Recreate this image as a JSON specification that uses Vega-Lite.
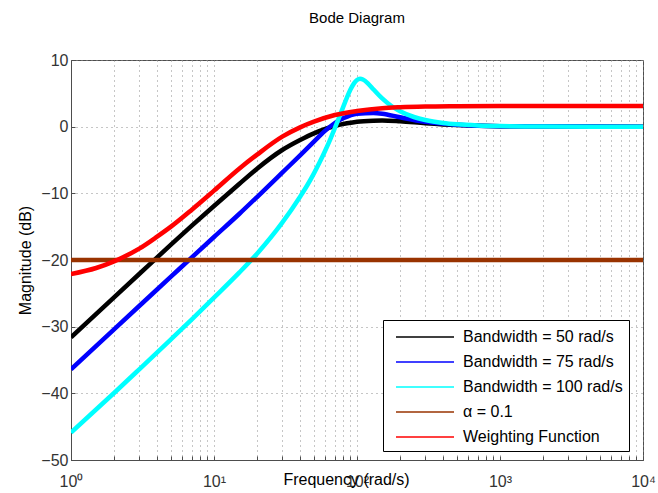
{
  "$schema": "https://vega.github.io/schema/vega-lite/v6.json",
  "autosize": {"type": "none"},
  "width": 572,
  "height": 400,
  "padding": {"left": 71, "top": 60, "right": 15, "bottom": 33},
  "background": "white",
  "title": {"text": "Bode Diagram", "fontSize": 15, "font": "Liberation Sans", "fontWeight": "normal", "color": "#000000", "offset": 26},
  "config": {
    "font": "Liberation Sans",
    "view": {"stroke": "#4d4d4d", "strokeWidth": 1},
    "axis": {"domainColor": "#4d4d4d", "tickColor": "#4d4d4d", "labelColor": "#333333", "titleColor": "#000000", "labelFont": "Liberation Sans", "titleFont": "Liberation Sans", "titleFontWeight": "normal", "gridColor": "#8c8c8c", "gridDash": [1, 4], "gridOpacity": 1, "gridWidth": 1}
  },
  "data": {"values": [
    {"w": 1, "db": -31.6, "s": "Bandwidth = 50 rad/s"},
    {"w": 2, "db": -25.6, "s": "Bandwidth = 50 rad/s"},
    {"w": 3, "db": -22.1, "s": "Bandwidth = 50 rad/s"},
    {"w": 5, "db": -17.7, "s": "Bandwidth = 50 rad/s"},
    {"w": 7, "db": -14.85, "s": "Bandwidth = 50 rad/s"},
    {"w": 10, "db": -11.9, "s": "Bandwidth = 50 rad/s"},
    {"w": 15, "db": -8.6, "s": "Bandwidth = 50 rad/s"},
    {"w": 20, "db": -6.3, "s": "Bandwidth = 50 rad/s"},
    {"w": 30, "db": -3.5, "s": "Bandwidth = 50 rad/s"},
    {"w": 40, "db": -2.0, "s": "Bandwidth = 50 rad/s"},
    {"w": 50, "db": -1.0, "s": "Bandwidth = 50 rad/s"},
    {"w": 60, "db": -0.35, "s": "Bandwidth = 50 rad/s"},
    {"w": 70, "db": 0.1, "s": "Bandwidth = 50 rad/s"},
    {"w": 85, "db": 0.5, "s": "Bandwidth = 50 rad/s"},
    {"w": 100, "db": 0.75, "s": "Bandwidth = 50 rad/s"},
    {"w": 130, "db": 0.9, "s": "Bandwidth = 50 rad/s"},
    {"w": 150, "db": 0.92, "s": "Bandwidth = 50 rad/s"},
    {"w": 200, "db": 0.8, "s": "Bandwidth = 50 rad/s"},
    {"w": 300, "db": 0.52, "s": "Bandwidth = 50 rad/s"},
    {"w": 500, "db": 0.24, "s": "Bandwidth = 50 rad/s"},
    {"w": 1000, "db": 0.07, "s": "Bandwidth = 50 rad/s"},
    {"w": 10000, "db": 0.0, "s": "Bandwidth = 50 rad/s"},
    {"w": 1, "db": -36.4, "s": "Bandwidth = 75 rad/s"},
    {"w": 2, "db": -30.4, "s": "Bandwidth = 75 rad/s"},
    {"w": 3, "db": -26.9, "s": "Bandwidth = 75 rad/s"},
    {"w": 5, "db": -22.5, "s": "Bandwidth = 75 rad/s"},
    {"w": 7, "db": -19.6, "s": "Bandwidth = 75 rad/s"},
    {"w": 10, "db": -16.55, "s": "Bandwidth = 75 rad/s"},
    {"w": 15, "db": -13.1, "s": "Bandwidth = 75 rad/s"},
    {"w": 20, "db": -10.55, "s": "Bandwidth = 75 rad/s"},
    {"w": 30, "db": -6.9, "s": "Bandwidth = 75 rad/s"},
    {"w": 40, "db": -4.3, "s": "Bandwidth = 75 rad/s"},
    {"w": 50, "db": -2.25, "s": "Bandwidth = 75 rad/s"},
    {"w": 60, "db": -0.6, "s": "Bandwidth = 75 rad/s"},
    {"w": 70, "db": 0.55, "s": "Bandwidth = 75 rad/s"},
    {"w": 80, "db": 1.25, "s": "Bandwidth = 75 rad/s"},
    {"w": 100, "db": 1.95, "s": "Bandwidth = 75 rad/s"},
    {"w": 130, "db": 2.05, "s": "Bandwidth = 75 rad/s"},
    {"w": 150, "db": 1.95, "s": "Bandwidth = 75 rad/s"},
    {"w": 200, "db": 1.4, "s": "Bandwidth = 75 rad/s"},
    {"w": 300, "db": 0.72, "s": "Bandwidth = 75 rad/s"},
    {"w": 500, "db": 0.28, "s": "Bandwidth = 75 rad/s"},
    {"w": 1000, "db": 0.07, "s": "Bandwidth = 75 rad/s"},
    {"w": 10000, "db": 0.0, "s": "Bandwidth = 75 rad/s"},
    {"w": 1, "db": -45.9, "s": "Bandwidth = 100 rad/s"},
    {"w": 2, "db": -39.95, "s": "Bandwidth = 100 rad/s"},
    {"w": 3, "db": -36.4, "s": "Bandwidth = 100 rad/s"},
    {"w": 5, "db": -31.9, "s": "Bandwidth = 100 rad/s"},
    {"w": 7, "db": -28.9, "s": "Bandwidth = 100 rad/s"},
    {"w": 10, "db": -25.65, "s": "Bandwidth = 100 rad/s"},
    {"w": 15, "db": -21.9, "s": "Bandwidth = 100 rad/s"},
    {"w": 20, "db": -19.05, "s": "Bandwidth = 100 rad/s"},
    {"w": 30, "db": -14.4, "s": "Bandwidth = 100 rad/s"},
    {"w": 40, "db": -10.5, "s": "Bandwidth = 100 rad/s"},
    {"w": 45, "db": -8.75, "s": "Bandwidth = 100 rad/s"},
    {"w": 50, "db": -7.0, "s": "Bandwidth = 100 rad/s"},
    {"w": 55, "db": -5.27, "s": "Bandwidth = 100 rad/s"},
    {"w": 60, "db": -3.57, "s": "Bandwidth = 100 rad/s"},
    {"w": 65, "db": -1.89, "s": "Bandwidth = 100 rad/s"},
    {"w": 70, "db": -0.23, "s": "Bandwidth = 100 rad/s"},
    {"w": 75, "db": 1.39, "s": "Bandwidth = 100 rad/s"},
    {"w": 80, "db": 2.94, "s": "Bandwidth = 100 rad/s"},
    {"w": 85, "db": 4.36, "s": "Bandwidth = 100 rad/s"},
    {"w": 90, "db": 5.56, "s": "Bandwidth = 100 rad/s"},
    {"w": 95, "db": 6.46, "s": "Bandwidth = 100 rad/s"},
    {"w": 100, "db": 6.99, "s": "Bandwidth = 100 rad/s"},
    {"w": 105, "db": 7.17, "s": "Bandwidth = 100 rad/s"},
    {"w": 110, "db": 7.07, "s": "Bandwidth = 100 rad/s"},
    {"w": 120, "db": 6.43, "s": "Bandwidth = 100 rad/s"},
    {"w": 130, "db": 5.62, "s": "Bandwidth = 100 rad/s"},
    {"w": 150, "db": 4.23, "s": "Bandwidth = 100 rad/s"},
    {"w": 175, "db": 3.06, "s": "Bandwidth = 100 rad/s"},
    {"w": 200, "db": 2.31, "s": "Bandwidth = 100 rad/s"},
    {"w": 250, "db": 1.45, "s": "Bandwidth = 100 rad/s"},
    {"w": 300, "db": 0.99, "s": "Bandwidth = 100 rad/s"},
    {"w": 400, "db": 0.55, "s": "Bandwidth = 100 rad/s"},
    {"w": 500, "db": 0.35, "s": "Bandwidth = 100 rad/s"},
    {"w": 700, "db": 0.18, "s": "Bandwidth = 100 rad/s"},
    {"w": 1000, "db": 0.09, "s": "Bandwidth = 100 rad/s"},
    {"w": 2000, "db": 0.02, "s": "Bandwidth = 100 rad/s"},
    {"w": 10000, "db": 0.0, "s": "Bandwidth = 100 rad/s"},
    {"w": 1, "db": -20, "s": "α = 0.1"},
    {"w": 10000, "db": -20, "s": "α = 0.1"},
    {"w": 1, "db": -22.1, "s": "Weighting Function"},
    {"w": 1.5, "db": -21.2, "s": "Weighting Function"},
    {"w": 2, "db": -20.2, "s": "Weighting Function"},
    {"w": 3, "db": -18.3, "s": "Weighting Function"},
    {"w": 4, "db": -16.5, "s": "Weighting Function"},
    {"w": 5, "db": -15.0, "s": "Weighting Function"},
    {"w": 7, "db": -12.45, "s": "Weighting Function"},
    {"w": 10, "db": -9.6, "s": "Weighting Function"},
    {"w": 15, "db": -6.3, "s": "Weighting Function"},
    {"w": 20, "db": -4.2, "s": "Weighting Function"},
    {"w": 30, "db": -1.5, "s": "Weighting Function"},
    {"w": 40, "db": -0.1, "s": "Weighting Function"},
    {"w": 50, "db": 0.75, "s": "Weighting Function"},
    {"w": 70, "db": 1.75, "s": "Weighting Function"},
    {"w": 100, "db": 2.35, "s": "Weighting Function"},
    {"w": 150, "db": 2.77, "s": "Weighting Function"},
    {"w": 200, "db": 2.91, "s": "Weighting Function"},
    {"w": 300, "db": 3.02, "s": "Weighting Function"},
    {"w": 500, "db": 3.07, "s": "Weighting Function"},
    {"w": 1000, "db": 3.1, "s": "Weighting Function"},
    {"w": 10000, "db": 3.11, "s": "Weighting Function"}
  ]},
  "mark": {"type": "line", "strokeWidth": 4.5, "interpolate": "monotone", "clip": true},
  "encoding": {
    "x": {
      "field": "w", "type": "quantitative",
      "scale": {"type": "log", "domain": [1, 10000], "nice": false},
      "axis": {
        "values": [1,2,3,4,5,6,7,8,9,10,20,30,40,50,60,70,80,90,100,200,300,400,500,600,700,800,900,1000,2000,3000,4000,5000,6000,7000,8000,9000,10000],
        "labelExpr": "datum.value == 1 ? '10⁰' : datum.value == 10 ? '10¹' : datum.value == 100 ? '10²' : datum.value == 1000 ? '10³' : datum.value == 10000 ? '10⁴' : ''",
        "grid": true, "tickSize": -4, "labelPadding": 17, "labelFontSize": 16, "labelFlush": false,
        "title": "Frequency (rad/s)", "titleFontSize": 16, "titleY": 19, "titleX": 275, "titleBaseline": "middle"
      }
    },
    "y": {
      "field": "db", "type": "quantitative",
      "scale": {"domain": [-50, 10], "nice": false},
      "axis": {
        "values": [-50, -40, -30, -20, -10, 0, 10],
        "grid": true, "tickSize": -4, "labelPadding": 7, "labelFontSize": 16,
        "title": "Magnitude (dB)", "titleFontSize": 16, "titlePadding": 7
      }
    },
    "color": {
      "field": "s", "type": "nominal",
      "scale": {"domain": ["Bandwidth = 50 rad/s", "Bandwidth = 75 rad/s", "Bandwidth = 100 rad/s", "α = 0.1", "Weighting Function"], "range": ["#000000", "#0000ff", "#00ffff", "#993300", "#ff0000"]},
      "legend": {
        "title": null, "orient": "none", "legendX": 312, "legendY": 260,
        "fillColor": "white", "strokeColor": "#000000", "padding": 6,
        "symbolType": "M-2.9,0H2.9", "symbolStrokeWidth": 1.5, "symbolSize": 400, "symbolOffset": 25,
        "labelOffset": 27, "labelFontSize": 16, "labelColor": "#000000", "labelFont": "Liberation Sans", "rowPadding": 6
      }
    }
  }
}
